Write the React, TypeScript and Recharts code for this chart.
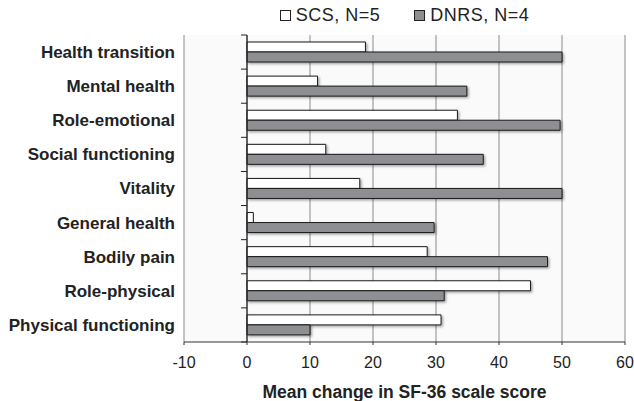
import {
  BarChart,
  Bar,
  XAxis,
  YAxis,
  CartesianGrid,
  Legend,
  ReferenceLine,
  Label,
} from 'recharts';

const categories = [
  'Health transition',
  'Mental health',
  'Role-emotional',
  'Social functioning',
  'Vitality',
  'General health',
  'Bodily pain',
  'Role-physical',
  'Physical functioning',
];

const scsValues = [18.8, 11.2, 33.4, 12.5, 17.9, 1.0, 28.6, 45.0, 30.8];
const dnrsValues = [50.0, 34.9, 49.7, 37.5, 50.0, 29.7, 47.7, 31.3, 10.0];

const xTicks = [-10, 0, 10, 20, 30, 40, 50, 60];

const SERIES = [
  { key: 'scs', name: 'SCS, N=5', fill: '#ffffff' },
  { key: 'dnrs', name: 'DNRS, N=4', fill: '#8e8f93' },
];

const FONT = '"Liberation Sans", Arial, sans-serif';

const data = categories.map((name, i) => ({
  name,
  scs: scsValues[i],
  dnrs: dnrsValues[i],
}));

function CategoryTick(props: any) {
  const { x, y, payload } = props;
  return (
    <text
      x={x - 1}
      y={y}
      dy="0.35em"
      textAnchor="end"
      fontFamily={FONT}
      fontSize={17}
      fontWeight="bold"
      fill="#222"
    >
      {payload.value}
    </text>
  );
}

// zero line carrying the category boundary ticks
function ZeroAxis(props: any) {
  const { x1, y1, x2, y2 } = props;
  const n = categories.length;
  const step = (y2 - y1) / n;
  return (
    <g>
      <line x1={x1} y1={y1} x2={x2} y2={y2} stroke="#222" strokeWidth={1.2} />
      {Array.from({ length: n + 1 }, (_, i) => (
        <line
          key={i}
          x1={x1 - 6}
          x2={x1}
          y1={y1 + i * step}
          y2={y1 + i * step}
          stroke="#222"
          strokeWidth={1}
        />
      ))}
    </g>
  );
}

function LegendContent() {
  return (
    <div
      style={{
        display: 'flex',
        justifyContent: 'center',
        gap: 34,
        fontFamily: FONT,
        fontSize: 18,
        letterSpacing: 0.5,
        lineHeight: '20px',
        color: '#222',
      }}
    >
      {SERIES.map((s) => (
        <div key={s.key} style={{ display: 'flex', alignItems: 'center', gap: 5 }}>
          <span
            style={{
              display: 'inline-block',
              width: 9,
              height: 9,
              background: s.fill,
              border: '1px solid #222',
            }}
          />
          <span>{s.name}</span>
        </div>
      ))}
    </div>
  );
}

export default function App() {
  return (
    <div style={{ position: 'absolute', left: 0, top: 0, background: '#fff' }}>
      <BarChart
        width={634}
        height={401}
        data={data}
        layout="vertical"
        margin={{ top: 15, right: 9, left: 0, bottom: 0 }}
        barSize={10}
        barGap={0}
      >
        <defs>
          <filter id="barShadow" x="-5%" y="-30%" width="115%" height="180%">
            <feDropShadow dx="1.5" dy="1.5" stdDeviation="1.2" floodColor="#000" floodOpacity="0.35" />
          </filter>
        </defs>
        <CartesianGrid horizontal={false} stroke="#8a8a8a" fill="#fafafa" />
        <XAxis
          type="number"
          domain={[-10, 60]}
          ticks={xTicks}
          height={59}
          stroke="#333"
          tickSize={3}
          tickMargin={12}
          tick={{ fill: '#222', fontSize: 16, fontFamily: FONT }}
        >
          <Label
            value="Mean change in SF-36 scale score"
            position="insideBottom"
            offset={3}
            style={{ fontFamily: FONT, fontSize: 17.5, fontWeight: 'bold', fill: '#222' }}
          />
        </XAxis>
        <YAxis
          type="category"
          dataKey="name"
          width={184}
          axisLine={false}
          tickLine={false}
          tick={<CategoryTick />}
          interval={0}
        />
        <ReferenceLine x={0} shape={<ZeroAxis />} />
        <Legend
          verticalAlign="top"
          content={<LegendContent />}
          wrapperStyle={{ left: 184, width: 441, top: 5 }}
        />
        {SERIES.map((s) => (
          <Bar
            key={s.key}
            dataKey={s.key}
            name={s.name}
            fill={s.fill}
            stroke="#1a1a1a"
            strokeWidth={1}
            filter="url(#barShadow)"
            isAnimationActive={false}
          />
        ))}
      </BarChart>
    </div>
  );
}
